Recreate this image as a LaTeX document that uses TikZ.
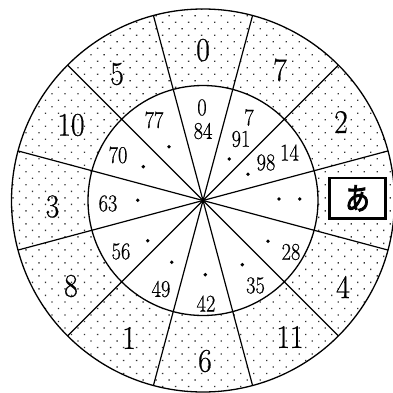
\documentclass[tikz,border=0pt]{standalone}
\usepackage{fontspec}
\setmainfont{Latin Modern Roman}[FakeBold=1, AutoFakeBold=0.6]
\newfontfamily\jpfont[FakeBold=3]{Noto Sans CJK JP}
\usetikzlibrary{patterns.meta}
\newcommand\innum[1]{\scalebox{0.85}[1]{\fontsize{24}{24}\selectfont\bfseries #1}}
\newcommand\outnum[1]{\scalebox{0.9}[1]{\fontsize{33}{33}\selectfont\bfseries #1}}
\tikzset{
  ring/.style={line width=1.3pt},
  spoke/.style={line width=1.2pt},
  hidden/.style={circle, fill=black, inner sep=0pt, minimum size=3.8pt},
  lbl/.style={inner sep=0pt},
}
\begin{document}
\begin{tikzpicture}[x=1pt,y=-1pt]
\useasboundingbox (0,0) rectangle (393,393);
\coordinate (C) at (203,200.5);
% dotted band
\fill[pattern={Dots[angle=45,distance=9.2pt,radius=0.95pt]}, pattern color=black!80, even odd rule]
  (C) circle (191.5pt) (C) circle (115pt);
% spokes
\foreach \a in {15,45,...,345} { \draw[spoke] (C) -- ++(\a:191.5pt); }
% circles
\draw[ring] (C) circle (191.5pt);
\draw[ring] (C) circle (115pt);
% outer labels
\node[lbl] (o0) at (203,50) {\outnum{0}};
\node[lbl] (o7) at (280,70) {\outnum{7}};
\node[lbl] (o2) at (341,122) {\outnum{2}};
\node[lbl] (o4) at (343,287) {\outnum{4}};
\node[lbl] (o11) at (290,337) {\outnum{11}};
\node[lbl] (o6) at (205,361) {\outnum{6}};
\node[lbl] (o1) at (129,338) {\outnum{1}};
\node[lbl] (o8) at (71,286) {\outnum{8}};
\node[lbl] (o3) at (52.5,206.5) {\outnum{3}};
\node[lbl] (o10) at (71,125) {\outnum{10}};
\node[lbl] (o5) at (117,74) {\outnum{5}};
% box
\node[draw, line width=2.7pt, fill=white, minimum width=55.6pt, minimum height=40.7pt, inner sep=0pt]
  (box) at (357.5,198.3) {\scalebox{0.8}[1]{\fontsize{31}{31}\jpfont あ}};
% inner labels
\node[lbl] (i0) at (202,107.5) {\innum{0}};
\node[lbl] (i84) at (203,131) {\innum{84}};
\node[lbl] (i7) at (249,117.5) {\innum{7}};
\node[lbl] (i91) at (241,139) {\innum{91}};
\node[lbl] (i98) at (266,162.5) {\innum{98}};
\node[lbl] (i14) at (289.5,152.5) {\innum{14}};
\node[lbl] (i28) at (291,252) {\innum{28}};
\node[lbl] (i35) at (255.5,285.5) {\innum{35}};
\node[lbl] (i42) at (206,303.5) {\innum{42}};
\node[lbl] (i49) at (161,289) {\innum{49}};
\node[lbl] (i56) at (121,251.5) {\innum{56}};
\node[lbl] (i63) at (108,203.5) {\innum{63}};
\node[lbl] (i70) at (118,155) {\innum{70}};
\node[lbl] (i77) at (154,120) {\innum{77}};
% hidden numbers (dots)
\node[hidden] (d1) at (229.3,159) {};
\node[hidden] (d2) at (248,174.3) {};
\node[hidden] (d3) at (279,199) {};
\node[hidden] (d4) at (299.7,199) {};
\node[hidden] (d5) at (268,241.3) {};
\node[hidden] (d6) at (242.3,264.7) {};
\node[hidden] (d7) at (205.3,274.7) {};
\node[hidden] (d8) at (171.7,262.3) {};
\node[hidden] (d9) at (147.7,240.7) {};
\node[hidden] (d10) at (137.7,200.3) {};
\node[hidden] (d11) at (143.3,166.7) {};
\node[hidden] (d12) at (169,146.7) {};
\end{tikzpicture}
\end{document}
